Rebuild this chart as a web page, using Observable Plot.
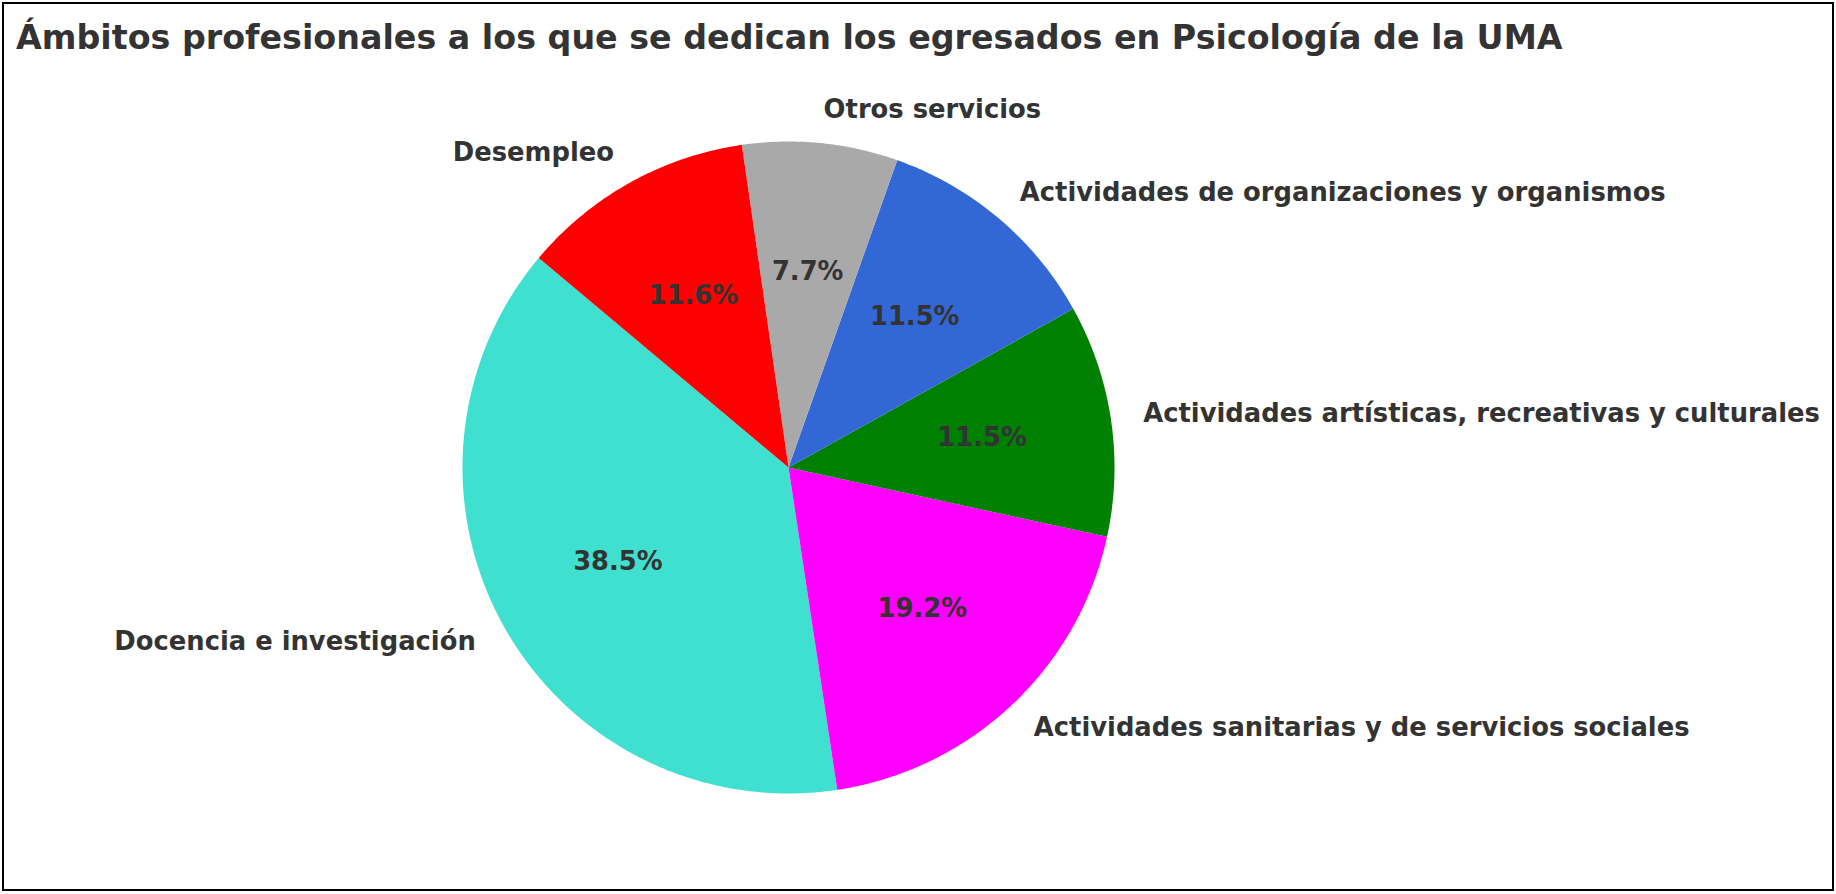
<!DOCTYPE html>
<html>
<head>
<meta charset="utf-8">
<script src="https://cdn.jsdelivr.net/npm/d3@7"></script>
<script src="https://cdn.jsdelivr.net/npm/@observablehq/plot@0.6"></script>
<style>
  html, body { margin: 0; padding: 0; background: #fff; }
  #chart { position: absolute; left: 0; top: 0; }
  #frame { position: absolute; left: 2px; top: 2px; width: 1832px; height: 889px; box-sizing: border-box; border: 2px solid #000; pointer-events: none; }
  #title { position: absolute; left: 16px; top: 18px; font-family: "DejaVu Sans"; font-weight: bold; font-size: 33.3px; color: #333333; white-space: nowrap; }
</style>
</head>
<body>
<div id="chart"></div>
<div id="frame"></div>
<div id="title">Ámbitos profesionales a los que se dedican los egresados en Psicología de la UMA</div>
<script>
// ---- Data ----
const categories = [
  "Docencia e investigación",
  "Actividades sanitarias y de servicios sociales",
  "Actividades artísticas, recreativas y culturales",
  "Actividades de organizaciones y organismos",
  "Otros servicios",
  "Desempleo"
];
const values = [38.5, 19.2, 11.5, 11.5, 7.7, 11.6];
const colors = ["#40E0D0", "#FF00FF", "#008000", "#3367D6", "#A9A9A9", "#FF0000"];
const startAngle = 140; // degrees, counterclockwise like matplotlib

// ---- Build wedges from the values ----
const total = d3.sum(values);
let cum = 0;
const slices = categories.map((name, i) => {
  const a0 = startAngle + 360 * cum / total;
  cum += values[i];
  const a1 = startAngle + 360 * cum / total;
  return { name, value: values[i], a0, a1, mid: (a0 + a1) / 2 };
});
const rad = (deg) => deg * Math.PI / 180;

const wedges = slices.map((s) => {
  const n = Math.max(2, Math.ceil((s.a1 - s.a0) / 0.5));
  const ring = [[0, 0]];
  for (let k = 0; k <= n; ++k) {
    const a = rad(s.a0 + (s.a1 - s.a0) * k / n);
    ring.push([Math.cos(a), Math.sin(a)]);
  }
  ring.push([0, 0]);
  return { type: "Feature", properties: { name: s.name }, geometry: { type: "Polygon", coordinates: [ring] } };
});

const labels = slices.map((s) => ({
  name: s.name,
  x: 1.1 * Math.cos(rad(s.mid)),
  y: 1.1 * Math.sin(rad(s.mid)),
  px: 0.6 * Math.cos(rad(s.mid)),
  py: 0.6 * Math.sin(rad(s.mid)),
  pct: (100 * s.value / total).toFixed(1) + "%"
}));

const textStyle = { fontFamily: "DejaVu Sans", fontWeight: "bold", fontSize: 25.8, fill: "#333333", dy: -1 };

const chart = Plot.plot({
  width: 1836,
  height: 894,
  marginLeft: 462,
  marginRight: 722,
  marginTop: 141,
  marginBottom: 101,
  style: { background: "transparent", fontFamily: "DejaVu Sans" },
  projection: { type: "reflect-y", domain: { type: "MultiPoint", coordinates: [[-1, -1], [1, 1]] }, clip: false },
  color: { domain: categories, range: colors },
  marks: [
    Plot.geo(wedges, { fill: (d) => d.properties.name }),
    Plot.text(labels.filter((d) => d.x >= 0), { x: "x", y: "y", text: "name", textAnchor: "start", ...textStyle }),
    Plot.text(labels.filter((d) => d.x < 0), { x: "x", y: "y", text: "name", textAnchor: "end", ...textStyle }),
    Plot.text(labels, { x: "px", y: "py", text: "pct", textAnchor: "middle", ...textStyle })
  ]
});
document.getElementById("chart").appendChild(chart);
</script>
</body>
</html>
